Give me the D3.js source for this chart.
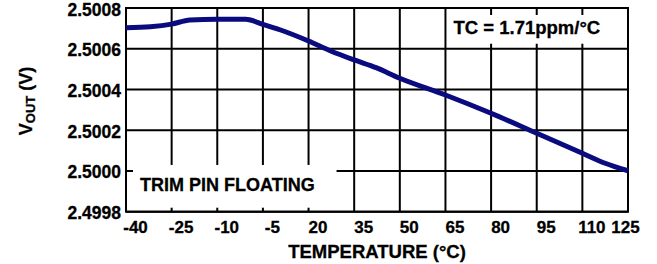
<!DOCTYPE html>
<html>
<head>
<meta charset="utf-8">
<script src="https://cdn.jsdelivr.net/npm/d3@7"></script>
<style>
  body { margin: 0; background: #fff; }
  text { font-family: "Liberation Sans", Arial, sans-serif; font-weight: bold; fill: #000; stroke: #000; stroke-width: 0.3px; }
  .grid line { stroke: #000; stroke-width: 2; }
  .axis path, .axis line { display: none; }
</style>
</head>
<body>
<script>
// axis ticks (x axis is evenly spaced, labels as printed)
var tempTicks = [-40, -25, -10, -5, 20, 35, 50, 65, 80, 95, 110, 125];
var voutTicks = [2.4998, 2.5000, 2.5002, 2.5004, 2.5006, 2.5008];

// curve
var temp = [-40, -32, -25, -19, -10, -6.9, -5, 4.7, 20, 27.3, 35, 42.2, 50, 65, 80, 95, 110, 117.5, 125];
var vout = [2.500703, 2.500708, 2.500721, 2.500741, 2.500745, 2.500745, 2.500720, 2.500692, 2.500638, 2.500589,
            2.500545, 2.500507, 2.500455, 2.500373, 2.500283, 2.500185, 2.500087, 2.500038, 2.500001];

var window_w = 657;
var window_h = 264;
var margin = {left:126, top:8, right:29, bottom:52.3};
var frame_w = window_w - margin.left - margin.right;
var frame_h = window_h - margin.top - margin.bottom;

// polylinear scale: each labelled tick gets an equal slot
var xRange = tempTicks.map(function(d, i){ return i * frame_w / (tempTicks.length - 1); });
var xScale = d3.scaleLinear().domain(tempTicks).range(xRange);
var yScale = d3.scaleLinear().domain([2.4998, 2.5008]).range([frame_h, 0]);

var svg = d3.select("body").append("svg").attr("width", window_w).attr("height", window_h);
var g = svg.append("g").attr("transform", "translate(" + margin.left + "," + margin.top + ")");

// grid
var grid = g.append("g").attr("class", "grid");
grid.selectAll(".v").data(tempTicks).enter().append("line")
    .attr("x1", function(d){ return xScale(d); })
    .attr("x2", function(d){ return xScale(d); })
    .attr("y1", 0).attr("y2", frame_h);
grid.selectAll(".h").data(voutTicks).enter().append("line")
    .attr("x1", 0).attr("x2", frame_w)
    .attr("y1", function(d){ return yScale(d); })
    .attr("y2", function(d){ return yScale(d); });

// white label boxes (tick stubs stay visible)
g.append("rect")
    .attr("x", xScale(65) + 3).attr("y", yScale(2.5008) + 7)
    .attr("width", xScale(125) - xScale(65) - 6)
    .attr("height", yScale(2.5006) - yScale(2.5008) - 12)
    .attr("fill", "#fff");
g.append("rect")
    .attr("x", 7).attr("y", yScale(2.5000) - 6)
    .attr("width", xScale(20) + 28 - 7)
    .attr("height", yScale(2.4998) - yScale(2.5000) + 2)
    .attr("fill", "#fff");

// frame
g.append("rect").attr("width", frame_w).attr("height", frame_h)
    .attr("fill", "none").attr("stroke", "#000").attr("stroke-width", 2);

var line = d3.line()
    .x(function(d, i){ return xScale(temp[i]); })
    .y(function(d){ return yScale(d); })
    .curve(d3.curveMonotoneX);

g.append("path")
    .attr("d", line(vout))
    .attr("fill", "none")
    .attr("stroke", "#0b0b80")
    .attr("stroke-width", 5)
    .attr("stroke-linejoin", "round");

var xAxis = d3.axisBottom(xScale).tickValues(tempTicks).tickSize(0).tickPadding(9)
    .tickFormat(function(d){ return d; });
var yAxis = d3.axisLeft(yScale).tickValues(voutTicks).tickSize(0).tickPadding(5)
    .tickFormat(d3.format(".4f"));

// labels sit just right of their gridline, last one pulled in
g.append("g").attr("class", "x axis")
    .attr("transform", "translate(0," + frame_h + ")")
    .call(xAxis)
    .selectAll("text")
    .style("font-size", "17px")
    .attr("dx", function(d, i){ return i == tempTicks.length - 1 ? -3 : 9; });

g.append("g").attr("class", "y axis")
    .call(yAxis)
    .selectAll("text").style("font-size", "17.5px").attr("dy", "0.4em");

// annotations
g.append("text")
    .attr("x", xScale(65) + 8).attr("y", 26)
    .style("font-size", "18.5px")
    .text("TC = 1.71ppm/°C");

g.append("text")
    .attr("x", 14).attr("y", yScale(2.5000) + 20)
    .style("font-size", "18px")
    .text("TRIM PIN FLOATING");

// axis titles
g.append("text")
    .attr("x", frame_w / 2).attr("y", window_h - margin.top - 6)
    .style("text-anchor", "middle")
    .style("font-size", "18.5px")
    .text("TEMPERATURE (°C)");

var yt = svg.append("text")
    .attr("transform", "translate(32,101) rotate(-90)")
    .style("text-anchor", "middle")
    .style("font-size", "18px");
yt.append("tspan").text("V");
yt.append("tspan").attr("dy", 3).style("font-size", "13px").text("OUT");
yt.append("tspan").attr("dy", -3).text(" (V)");
</script>
</body>
</html>
